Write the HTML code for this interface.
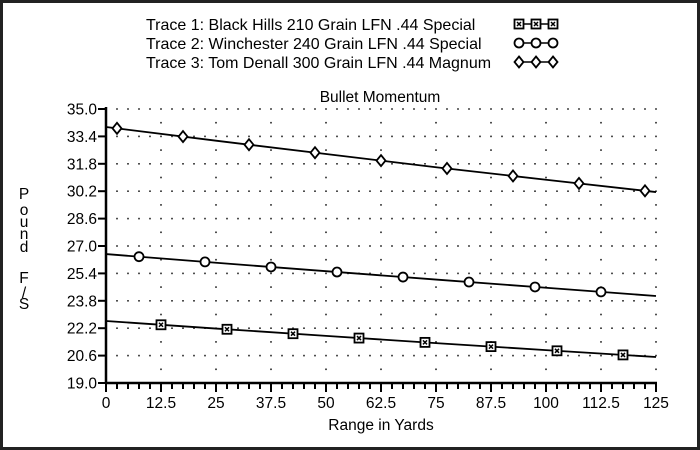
<!DOCTYPE html>
<html><head><meta charset="utf-8"><style>
html,body{margin:0;padding:0;background:#fff;}
svg{display:block;font-family:"Liberation Sans",Arial,sans-serif;}
</style></head><body>
<svg id="chart" width="700" height="450">
<rect x="1.5" y="1.5" width="697" height="447" fill="#fff" stroke="#222" stroke-width="3"/>
<g>
<text x="146" y="30" font-size="16">Trace 1:  Black Hills 210 Grain LFN .44 Special</text>
<text x="146" y="49" font-size="16">Trace 2:  Winchester 240 Grain LFN .44 Special</text>
<text x="146" y="68" font-size="16">Trace 3:  Tom Denall 300 Grain LFN .44 Magnum</text>
<g id="legendMarks"></g>
</g>
<text x="380" y="102" font-size="15.5" text-anchor="middle">Bullet Momentum</text>
<g font-size="15.5" text-anchor="middle">
<text x="24" y="199">P</text><text x="24" y="215">o</text><text x="24" y="227">u</text><text x="24" y="239">n</text><text x="24" y="252">d</text>
<text x="24" y="283">F</text><text x="24" y="298">/</text><text x="24" y="309">S</text>
</g>
<text x="381" y="430" font-size="15.5" text-anchor="middle">Range in Yards</text>
<g id="grid"></g><g id="axes"></g><g id="series"></g>
</svg>
<script>
const xTicks=[0,12.5,25,37.5,50,62.5,75,87.5,100,112.5,125];
const yTicks=[19.0,20.6,22.2,23.8,25.4,27.0,28.6,30.2,31.8,33.4,35.0];
const lineX=[0,25,50,75,100,125];
const trace1=[22.62,22.18,21.75,21.33,20.92,20.52];
const trace2=[26.53,26.02,25.53,25.04,24.56,24.08];
const trace3=[33.95,33.15,32.37,31.60,30.87,30.15];
const marks1=[12.5,27.5,42.5,57.5,72.5,87.5,102.5,117.5];
const marks2=[7.5,22.5,37.5,52.5,67.5,82.5,97.5,112.5];
const marks3=[2.5,17.5,32.5,47.5,62.5,77.5,92.5,107.5,122.5];
const NS="http://www.w3.org/2000/svg";
const X0=106,X1=656,Y0=383,Y1=109;
const xs=v=>X0+(v-0)/125*(X1-X0);
const ys=v=>Y0-(v-19)/16*(Y0-Y1);
function mk(tag,attrs,parent){const e=document.createElementNS(NS,tag);for(const k in attrs)e.setAttribute(k,attrs[k]);parent.appendChild(e);return e;}
const grid=document.getElementById('grid'),axes=document.getElementById('axes'),series=document.getElementById('series');
for(let i=1;i<yTicks.length;i++){
 for(let x=2.5;x<=125.01;x+=2.5){const d=mk('rect',{x:xs(x)-0.8,y:ys(yTicks[i])-0.8,width:1.6,height:1.6,fill:'#222'},grid);
 
 }
 const mid=(yTicks[i]+yTicks[i-1])/2;
 for(let j=1;j<xTicks.length;j++){const d=mk('rect',{x:xs(xTicks[j])-0.8,y:ys(mid)-0.8,width:1.6,height:1.6,fill:'#222'},grid);
 
 }
}
let a=mk('line',{x1:X0,y1:Y1-2,x2:X0,y2:Y0+1,stroke:'#000','stroke-width':2.5},axes);


a=mk('line',{x1:X0-1,y1:Y0,x2:X1+1,y2:Y0,stroke:'#000','stroke-width':2.5},axes);


yTicks.forEach(v=>{const t=mk('line',{x1:X0-8,y1:ys(v),x2:X0,y2:ys(v),stroke:'#000','stroke-width':2},axes);
 
 
 const l=mk('text',{x:X0-9,y:ys(v)+5.5,'font-size':15.5,'text-anchor':'end'},axes);l.textContent=v.toFixed(1);
 
 });
for(let x=0;x<=125.01;x+=2.5){const major=xTicks.includes(x);
 const t=mk('line',{x1:xs(x),y1:Y0,x2:xs(x),y2:Y0+(major?9:6),stroke:'#000','stroke-width':2},axes);
 
 }
xTicks.forEach(v=>{const l=mk('text',{x:xs(v),y:Y0+25,'font-size':15.5,'text-anchor':'middle'},axes);l.textContent=String(v);
 
 });
function interp(vals,x){for(let i=0;i<lineX.length-1;i++){if(x<=lineX[i+1]){const t=(x-lineX[i])/(lineX[i+1]-lineX[i]);return vals[i]+t*(vals[i+1]-vals[i]);}}return vals[vals.length-1];}
function marker(type,cx,cy,parent){
 if(type===1){mk('rect',{x:cx-4.5,y:cy-4.5,width:9,height:9,fill:'#fff',stroke:'#000','stroke-width':1.8},parent);
  mk('path',{d:`M${cx-2},${cy-2}L${cx+2},${cy+2}M${cx+2},${cy-2}L${cx-2},${cy+2}`,stroke:'#000','stroke-width':1.5},parent);}
 else if(type===2){mk('circle',{cx:cx,cy:cy,r:4.5,fill:'#fff',stroke:'#000','stroke-width':1.8},parent);}
 else{mk('path',{d:`M${cx},${cy-5.5}L${cx+4.5},${cy}L${cx},${cy+5.5}L${cx-4.5},${cy}Z`,fill:'#fff',stroke:'#000','stroke-width':1.8},parent);}
}
[[trace1,marks1,1],[trace2,marks2,2],[trace3,marks3,3]].forEach(([vals,marks,type])=>{
 const g=mk('g',{},series);
 
 
 const p=mk('polyline',{points:lineX.map((x,i)=>xs(x)+','+ys(vals[i])).join(' '),fill:'none',stroke:'#000','stroke-width':1.8},g);
 
 
 marks.forEach(x=>{const mg=mk('g',{},g);
  
  
  marker(type,xs(x),ys(interp(vals,x)),mg);});
});
const lm=document.getElementById('legendMarks');
[[1,24],[2,43],[3,62]].forEach(([type,y])=>{
 const g=mk('g',{},lm);
 
 
 mk('line',{x1:519,y1:y,x2:553,y2:y,stroke:'#000','stroke-width':1.5},g);
 [519,536,553].forEach(cx=>marker(type,cx,y,g));
});
</script>
</body></html>
